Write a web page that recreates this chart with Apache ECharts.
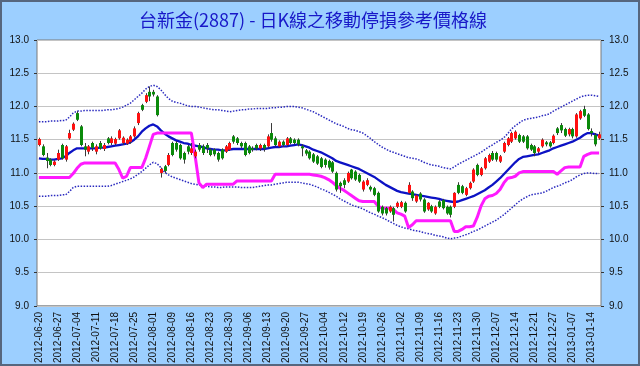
<!DOCTYPE html>
<html><head><meta charset="utf-8">
<script src="https://cdn.jsdelivr.net/npm/echarts/dist/echarts.min.js"></script>
<style>html,body{margin:0;padding:0;background:#fff}#c{width:640px;height:366px}</style>
</head><body><div id="c"></div>
<script>
const dates = [
'2012-06-20','2012-06-21','2012-06-22','2012-06-25','2012-06-26','2012-06-27','2012-06-28','2012-06-29',
'2012-07-02','2012-07-03','2012-07-04','2012-07-05','2012-07-06','2012-07-09','2012-07-10','2012-07-11','2012-07-12','2012-07-13',
'2012-07-16','2012-07-17','2012-07-18','2012-07-19','2012-07-20','2012-07-23','2012-07-24','2012-07-25','2012-07-26','2012-07-27',
'2012-07-30','2012-07-31','2012-08-01','2012-08-03','2012-08-06','2012-08-07','2012-08-08','2012-08-09','2012-08-10',
'2012-08-13','2012-08-14','2012-08-15','2012-08-16','2012-08-17','2012-08-20','2012-08-21','2012-08-22','2012-08-23','2012-08-24',
'2012-08-27','2012-08-28','2012-08-29','2012-08-30','2012-08-31','2012-09-03','2012-09-04','2012-09-05','2012-09-06','2012-09-07',
'2012-09-10','2012-09-11','2012-09-12','2012-09-13','2012-09-14','2012-09-17','2012-09-18','2012-09-19','2012-09-20','2012-09-21',
'2012-09-24','2012-09-25','2012-09-26','2012-09-27','2012-09-28','2012-10-01','2012-10-02','2012-10-03','2012-10-04','2012-10-05',
'2012-10-08','2012-10-09','2012-10-11','2012-10-12','2012-10-15','2012-10-16','2012-10-17','2012-10-18','2012-10-19',
'2012-10-22','2012-10-23','2012-10-24','2012-10-25','2012-10-26','2012-10-29','2012-10-30','2012-10-31','2012-11-01','2012-11-02',
'2012-11-05','2012-11-06','2012-11-07','2012-11-08','2012-11-09','2012-11-12','2012-11-13','2012-11-14','2012-11-15','2012-11-16',
'2012-11-19','2012-11-20','2012-11-21','2012-11-22','2012-11-23','2012-11-26','2012-11-27','2012-11-28','2012-11-29','2012-11-30',
'2012-12-03','2012-12-04','2012-12-05','2012-12-06','2012-12-07','2012-12-10','2012-12-11','2012-12-12','2012-12-13','2012-12-14',
'2012-12-17','2012-12-18','2012-12-19','2012-12-20','2012-12-21','2012-12-22','2012-12-24','2012-12-25','2012-12-26','2012-12-27',
'2012-12-28','2013-01-02','2013-01-03','2013-01-04','2013-01-07','2013-01-08','2013-01-09','2013-01-10','2013-01-11','2013-01-14',
'2013-01-15','2013-01-16'];

// [open, close, low, high]
const candles = [
[11.42,11.51,11.40,11.53],[11.40,11.27,11.25,11.43],[11.23,11.18,11.07,11.30],[11.20,11.12,11.10,11.22],[11.12,11.17,11.10,11.19],
[11.20,11.30,11.18,11.35],[11.42,11.22,11.20,11.44],[11.20,11.40,11.17,11.42],[11.52,11.60,11.50,11.65],[11.65,11.74,11.63,11.76],
[11.90,11.80,11.78,11.93],[11.70,11.42,11.40,11.72],[11.40,11.35,11.25,11.45],[11.32,11.40,11.28,11.42],[11.45,11.38,11.33,11.47],
[11.32,11.40,11.28,11.43],[11.45,11.37,11.35,11.48],[11.36,11.42,11.33,11.45],[11.52,11.45,11.43,11.54],[11.45,11.52,11.42,11.55],
[11.44,11.51,11.42,11.53],[11.52,11.64,11.50,11.66],[11.45,11.53,11.42,11.55],[11.44,11.50,11.42,11.52],[11.47,11.55,11.44,11.57],
[11.55,11.67,11.53,11.70],[11.75,11.90,11.72,11.92],[12.02,11.95,11.93,12.04],[12.07,12.17,12.05,12.20],[12.22,12.15,12.08,12.30],
[12.22,12.18,12.15,12.25],[12.15,11.87,11.85,12.17],[11.00,11.06,10.93,11.08],[11.10,11.03,11.00,11.12],[11.12,11.27,11.10,11.30],
[11.45,11.27,11.25,11.47],[11.45,11.35,11.32,11.48],[11.42,11.22,11.20,11.44],[11.30,11.20,11.14,11.32],[11.40,11.32,11.28,11.42],
[11.30,11.37,11.27,11.45],[11.25,11.32,11.22,11.35],[11.42,11.35,11.32,11.45],[11.40,11.30,11.27,11.43],[11.42,11.37,11.30,11.45],
[11.35,11.27,11.25,11.37],[11.35,11.28,11.25,11.37],[11.30,11.20,11.17,11.32],[11.35,11.22,11.20,11.37],[11.32,11.40,11.30,11.42],
[11.35,11.45,11.33,11.47],[11.55,11.47,11.44,11.57],[11.52,11.45,11.42,11.54],[11.45,11.40,11.37,11.47],[11.45,11.27,11.25,11.47],
[11.40,11.30,11.28,11.42],[11.37,11.35,11.32,11.40],[11.42,11.37,11.34,11.44],[11.37,11.42,11.33,11.44],[11.42,11.37,11.32,11.44],
[11.40,11.55,11.38,11.58],[11.60,11.50,11.47,11.75],[11.52,11.42,11.40,11.55],[11.40,11.47,11.38,11.49],[11.47,11.42,11.39,11.49],
[11.42,11.52,11.40,11.54],[11.52,11.45,11.43,11.54],[11.50,11.45,11.43,11.52],[11.50,11.43,11.40,11.52],[11.40,11.37,11.25,11.43],
[11.34,11.29,11.26,11.36],[11.32,11.22,11.20,11.34],[11.28,11.17,11.15,11.30],[11.25,11.14,11.12,11.27],[11.22,11.09,11.07,11.24],
[11.20,11.12,11.08,11.22],[11.18,11.08,11.05,11.20],[11.16,11.02,11.00,11.18],[11.00,10.75,10.72,11.02],[10.85,10.80,10.70,10.87],
[10.89,10.82,10.77,10.92],[10.87,11.00,10.85,11.02],[11.05,10.92,10.90,11.06],[11.02,10.90,10.88,11.04],[10.97,10.87,10.85,10.99],
[10.75,10.87,10.72,10.89],[10.82,10.89,10.80,10.92],[10.79,10.75,10.72,10.81],[10.77,10.67,10.65,10.79],[10.70,10.42,10.40,10.72],
[10.49,10.39,10.36,10.51],[10.47,10.39,10.36,10.49],[10.42,10.49,10.40,10.51],[10.47,10.37,10.27,10.49],[10.49,10.55,10.47,10.57],
[10.49,10.56,10.47,10.58],[10.55,10.42,10.40,10.57],[10.70,10.82,10.68,10.86],[10.72,10.62,10.58,10.74],[10.57,10.66,10.55,10.68],
[10.69,10.60,10.57,10.71],[10.60,10.42,10.40,10.62],[10.45,10.55,10.43,10.56],[10.50,10.42,10.40,10.52],[10.39,10.49,10.37,10.51],
[10.57,10.49,10.47,10.59],[10.59,10.47,10.45,10.61],[10.49,10.39,10.37,10.51],[10.49,10.37,10.33,10.51],[10.49,10.70,10.47,10.71],
[10.82,10.70,10.68,10.86],[10.80,10.70,10.68,10.82],[10.67,10.77,10.65,10.79],[10.77,10.85,10.75,10.87],[10.87,11.05,10.85,11.07],
[11.12,10.97,10.95,11.14],[10.97,11.07,10.95,11.09],[11.07,11.22,11.05,11.24],[11.17,11.27,11.15,11.29],[11.30,11.20,11.18,11.33],
[11.30,11.20,11.17,11.32],[11.17,11.25,11.15,11.27],[11.32,11.45,11.30,11.47],[11.42,11.52,11.40,11.54],[11.47,11.60,11.45,11.62],
[11.52,11.62,11.50,11.64],[11.57,11.47,11.45,11.59],[11.55,11.47,11.45,11.57],[11.55,11.37,11.35,11.57],[11.42,11.35,11.33,11.44],
[11.40,11.30,11.25,11.42],[11.32,11.37,11.30,11.39],[11.40,11.50,11.38,11.52],[11.46,11.43,11.40,11.48],[11.46,11.40,11.38,11.48],
[11.45,11.56,11.43,11.58],[11.67,11.60,11.57,11.69],[11.72,11.64,11.60,11.75],[11.66,11.56,11.54,11.68],[11.58,11.66,11.55,11.68],
[11.66,11.55,11.52,11.68],[11.55,11.88,11.53,11.90],[11.82,11.93,11.80,11.95],[11.96,11.86,11.84,12.01],[11.88,11.66,11.64,11.90],
[11.63,11.60,11.55,11.67],[11.57,11.43,11.40,11.60],[11.52,11.58,11.50,11.62]];

const upperBand = [
11.77,11.77,11.77,11.78,11.78,11.78,11.79,11.79,11.84,11.90,
11.93,11.93,11.94,11.94,11.94,11.94,11.94,11.94,11.95,11.95,
11.96,11.97,11.99,12.02,12.05,12.10,12.15,12.20,12.26,12.30,
12.32,12.30,12.25,12.18,12.12,12.08,12.06,12.05,12.03,12.01,
12.00,12.00,11.99,11.98,11.97,11.96,11.95,11.95,11.94,11.93,
11.92,11.93,11.94,11.95,11.95,11.96,11.96,11.97,11.97,11.97,
11.97,11.98,11.98,11.99,11.99,12.00,12.00,12.00,11.99,11.98,
11.96,11.94,11.92,11.89,11.86,11.83,11.80,11.77,11.74,11.72,
11.70,11.67,11.65,11.64,11.62,11.60,11.56,11.52,11.47,11.43,
11.39,11.36,11.33,11.31,11.29,11.27,11.25,11.23,11.22,11.21,
11.19,11.16,11.14,11.12,11.11,11.10,11.08,11.07,11.06,11.09,
11.13,11.16,11.19,11.22,11.25,11.28,11.31,11.35,11.39,11.42,
11.46,11.49,11.53,11.59,11.66,11.71,11.75,11.79,11.81,11.82,
11.83,11.84,11.86,11.87,11.89,11.93,11.96,11.99,12.02,12.05,
12.08,12.11,12.14,12.16,12.17,12.17,12.16,12.15];

const lowerBand = [
10.65,10.65,10.65,10.66,10.66,10.66,10.67,10.67,10.72,10.78,
10.80,10.80,10.80,10.80,10.80,10.80,10.80,10.80,10.80,10.81,
10.83,10.85,10.87,10.89,10.91,10.94,10.98,11.02,11.07,11.12,
11.16,11.14,11.08,11.01,10.97,10.94,10.92,10.90,10.88,10.86,
10.84,10.83,10.82,10.80,10.80,10.79,10.79,10.78,10.78,10.79,
10.79,10.79,10.79,10.78,10.78,10.78,10.78,10.79,10.80,10.81,
10.82,10.82,10.83,10.84,10.85,10.86,10.86,10.86,10.86,10.85,
10.84,10.83,10.81,10.79,10.76,10.74,10.71,10.68,10.65,10.61,
10.58,10.55,10.52,10.50,10.48,10.46,10.43,10.40,10.38,10.35,
10.33,10.30,10.27,10.24,10.21,10.19,10.17,10.16,10.14,10.13,
10.12,10.10,10.09,10.08,10.06,10.05,10.04,10.02,10.01,10.02,
10.03,10.05,10.07,10.09,10.12,10.14,10.17,10.20,10.23,10.26,
10.29,10.33,10.37,10.42,10.47,10.52,10.57,10.61,10.64,10.67,
10.68,10.69,10.70,10.72,10.75,10.78,10.80,10.82,10.85,10.87,
10.90,10.94,10.97,10.99,11.00,11.00,10.99,10.99];

const movingAvg = [
11.22,11.21,11.21,11.20,11.20,11.21,11.22,11.25,11.30,11.34,
11.37,11.37,11.37,11.37,11.37,11.37,11.38,11.38,11.39,11.40,
11.41,11.42,11.43,11.44,11.46,11.50,11.55,11.62,11.67,11.71,
11.73,11.70,11.64,11.59,11.55,11.52,11.49,11.47,11.45,11.44,
11.42,11.41,11.40,11.39,11.37,11.36,11.35,11.35,11.34,11.34,
11.35,11.36,11.36,11.36,11.36,11.36,11.36,11.36,11.36,11.36,
11.37,11.38,11.39,11.39,11.40,11.40,11.41,11.42,11.43,11.42,
11.40,11.38,11.35,11.33,11.31,11.28,11.25,11.22,11.18,11.16,
11.14,11.12,11.10,11.08,11.06,11.03,11.00,10.97,10.94,10.90,
10.86,10.82,10.79,10.76,10.73,10.71,10.70,10.69,10.68,10.67,
10.66,10.65,10.64,10.63,10.62,10.61,10.59,10.58,10.57,10.56,
10.57,10.59,10.61,10.63,10.65,10.68,10.71,10.74,10.78,10.82,
10.87,10.92,10.98,11.04,11.10,11.16,11.21,11.24,11.25,11.26,
11.27,11.28,11.30,11.32,11.34,11.37,11.39,11.41,11.43,11.45,
11.47,11.50,11.53,11.57,11.60,11.60,11.58,11.56];

const stopLine = [
10.93,10.93,10.93,10.93,10.93,10.93,10.93,10.93,10.93,10.99,
11.07,11.13,11.15,11.15,11.15,11.15,11.15,11.15,11.15,11.15,
11.15,11.05,10.92,10.95,11.08,11.08,11.08,11.08,11.22,11.40,
11.58,11.60,11.60,11.60,11.60,11.60,11.60,11.60,11.60,11.60,
11.60,11.25,10.85,10.78,10.83,10.83,10.83,10.83,10.83,10.83,
10.83,10.83,10.88,10.88,10.88,10.88,10.88,10.88,10.88,10.88,
10.88,10.88,10.98,10.98,10.98,10.98,10.98,10.98,10.98,10.98,
10.98,10.98,10.97,10.96,10.95,10.93,10.90,10.86,10.81,10.77,
10.74,10.70,10.66,10.62,10.58,10.57,10.57,10.57,10.57,10.50,
10.47,10.47,10.47,10.45,10.40,10.38,10.35,10.18,10.22,10.28,
10.28,10.28,10.28,10.28,10.28,10.28,10.28,10.28,10.28,10.12,
10.12,10.15,10.19,10.19,10.20,10.33,10.50,10.61,10.65,10.66,
10.69,10.75,10.85,10.92,10.93,10.95,11.00,11.02,11.02,11.02,
11.02,11.02,11.02,11.02,11.02,11.02,10.98,11.03,11.08,11.09,
11.09,11.09,11.09,11.25,11.28,11.30,11.30,11.30];

const yTicks = {min: 9, max: 13, step: 0.5};
const titleText = '台新金(2887) - 日K線之移動停損參考價格線';

const chart = echarts.init(document.getElementById('c'), null, {renderer: 'canvas'});

function yAxisCfg(pos, grid) {
  return {
    type: 'value', position: pos, min: yTicks.min, max: yTicks.max, interval: yTicks.step,
    axisLine: {show: false},
    axisTick: {show: true, length: 3, lineStyle: {color: '#333'}},
    axisLabel: {formatter: v => v.toFixed(1), fontSize: 10, color: '#111', margin: 8, fontFamily: 'Liberation Sans, Arial, sans-serif'},
    splitLine: {show: grid, lineStyle: {color: '#c4c4c4', width: 1}}
  };
}

const option = {
  animation: false,
  backgroundColor: '#9ccfff',
  title: {
    text: titleText, left: 134, top: 6,
    textStyle: {color: '#1818c8', fontSize: 18, fontWeight: 'normal', fontFamily: '"Noto Sans CJK TC", sans-serif'}
  },
  graphic: [{type: 'rect', shape: {x: 1, y: 1, width: 638, height: 364}, style: {fill: 'none', stroke: '#56667e', lineWidth: 2}, z: 100}],
  grid: {left: 37, right: 39, top: 40, bottom: 60, show: true, backgroundColor: '#ffffff', borderColor: '#7a7a7a', borderWidth: 1},
  xAxis: {
    type: 'category', data: dates, boundaryGap: true,
    axisLine: {show: false}, axisTick: {show: false},
    axisLabel: {interval: 4, rotate: 90, fontSize: 10, color: '#111', margin: 6, fontFamily: 'Liberation Sans, Arial, sans-serif'},
    splitLine: {show: false}
  },
  yAxis: [yAxisCfg('left', true), yAxisCfg('right', false)],
  series: [
    {type: 'line', name: 'upper', data: upperBand, showSymbol: false, silent: true, z: 2,
      lineStyle: {color: '#2a2abf', width: 1.5, type: 'dotted'}},
    {type: 'line', name: 'lower', data: lowerBand, showSymbol: false, silent: true, z: 2,
      lineStyle: {color: '#2a2abf', width: 1.5, type: 'dotted'}},
    {type: 'line', name: 'ma', data: movingAvg, showSymbol: false, silent: true, z: 2,
      lineStyle: {color: '#0c12c4', width: 2.3}},
    {type: 'line', name: 'stop', data: stopLine, showSymbol: false, silent: true, z: 2,
      lineStyle: {color: '#ff1aff', width: 3}},
    {type: 'custom', name: 'k', z: 4,
      data: candles.map((d, i) => [i, d[0], d[1], d[2], d[3]]),
      encode: {x: 0, y: [1, 2, 3, 4]},
      renderItem: function (params, api) {
        const i = api.value(0), o = api.value(1), c = api.value(2), l = api.value(3), h = api.value(4);
        const pO = api.coord([i, o]), pC = api.coord([i, c]), pL = api.coord([i, l]), pH = api.coord([i, h]);
        const x = Math.round(pO[0]);
        const top = Math.min(pO[1], pC[1]), bot = Math.max(pO[1], pC[1]);
        const col = c >= o ? '#ff1010' : '#0a8a0a';
        return {type: 'group', children: [
          {type: 'line', shape: {x1: x + 0.5, y1: pH[1], x2: x + 0.5, y2: pL[1]}, style: {stroke: '#3a3a3a', lineWidth: 1}},
          {type: 'rect', shape: {x: x - 1, y: top, width: 3, height: Math.max(1.5, bot - top)}, style: {fill: col}}
        ]};
      }
    }
  ]
};
chart.setOption(option);
</script>
</body></html>
